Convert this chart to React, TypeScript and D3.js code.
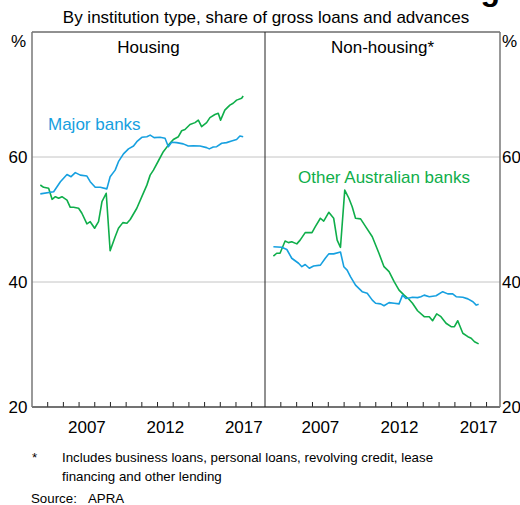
import { useEffect, useRef } from 'react'
import * as d3 from 'd3'

type Point = [number, number]

// [year, per cent]
const housingMajor: Point[] = [
  [2004.53, 54.1], [2005.38, 54.45], [2005.81, 56.05], [2006.23, 57.2], [2006.49, 56.85],
  [2006.76, 57.5], [2007.08, 57.1], [2007.5, 56.95], [2007.71, 56.05], [2008.03, 55.15],
  [2008.35, 55.15], [2008.77, 54.9], [2008.98, 56.85], [2009.3, 57.9], [2009.51, 59.25],
  [2009.83, 60.5], [2010.15, 61.3], [2010.47, 61.75], [2010.68, 62.45], [2011.0, 63.15],
  [2011.32, 63.25], [2011.53, 63.5], [2011.78, 63.1], [2012.16, 63.15], [2012.48, 63.0],
  [2012.69, 61.65], [2012.9, 62.35], [2013.22, 62.3], [2013.64, 62.1], [2013.96, 61.75],
  [2014.28, 61.8], [2014.71, 61.75], [2015.13, 61.5], [2015.3, 61.3], [2015.55, 61.6],
  [2015.77, 61.65], [2016.09, 62.2], [2016.4, 62.3], [2016.72, 62.55], [2017.04, 62.8],
  [2017.25, 63.35], [2017.46, 63.25],
]

const housingOther: Point[] = [
  [2004.53, 55.52], [2004.74, 55.15], [2005.06, 55.0], [2005.28, 53.23], [2005.49, 53.65],
  [2005.7, 53.4], [2005.91, 53.65], [2006.23, 53.1], [2006.44, 51.95], [2006.65, 51.95],
  [2006.97, 51.8], [2007.18, 51.0], [2007.5, 49.3], [2007.71, 49.65], [2007.99, 48.6],
  [2008.24, 49.65], [2008.46, 52.85], [2008.73, 54.2], [2008.98, 45.0], [2009.3, 47.25],
  [2009.51, 48.6], [2009.79, 49.5], [2010.05, 49.4], [2010.26, 50.0], [2010.68, 51.8],
  [2011.0, 53.65], [2011.32, 55.5], [2011.53, 57.1], [2011.74, 57.9], [2012.06, 59.4],
  [2012.37, 60.85], [2012.69, 61.9], [2013.01, 62.8], [2013.33, 63.25], [2013.54, 64.2],
  [2013.75, 64.4], [2014.07, 65.2], [2014.39, 65.5], [2014.6, 65.9], [2014.81, 64.85],
  [2015.13, 65.5], [2015.34, 66.3], [2015.66, 66.8], [2015.87, 67.0], [2016.02, 65.9],
  [2016.29, 67.5], [2016.61, 68.3], [2016.82, 68.6], [2017.04, 69.1], [2017.36, 69.4],
  [2017.46, 69.75],
]

const nonHousingMajor: Point[] = [
  [2004.53, 45.65], [2005.06, 45.55], [2005.38, 45.2], [2005.69, 43.8], [2006.12, 43.0],
  [2006.33, 42.45], [2006.54, 42.8], [2006.8, 42.2], [2007.07, 42.55], [2007.5, 42.7],
  [2007.81, 43.8], [2008.03, 44.5], [2008.34, 44.5], [2008.77, 44.8], [2008.98, 42.45],
  [2009.19, 41.9], [2009.4, 40.85], [2009.72, 39.5], [2010.14, 38.45], [2010.46, 38.2],
  [2010.78, 37.1], [2010.99, 36.6], [2011.31, 36.5], [2011.52, 36.2], [2011.84, 36.7],
  [2012.16, 36.6], [2012.47, 36.5], [2012.69, 37.9], [2012.9, 37.35], [2013.11, 37.45],
  [2013.32, 37.55], [2013.64, 37.5], [2013.85, 37.65], [2014.06, 37.9], [2014.38, 37.65],
  [2014.81, 37.8], [2015.23, 38.45], [2015.55, 38.1], [2015.86, 38.1], [2016.08, 37.65],
  [2016.5, 37.55], [2016.82, 37.3], [2017.14, 36.85], [2017.35, 36.3], [2017.5, 36.45],
]

const nonHousingOther: Point[] = [
  [2004.53, 44.15], [2004.74, 44.6], [2004.95, 44.6], [2005.27, 46.55], [2005.48, 46.3],
  [2005.69, 46.45], [2006.01, 46.1], [2006.22, 46.7], [2006.54, 47.9], [2006.97, 47.9],
  [2007.18, 48.85], [2007.5, 50.2], [2007.71, 49.75], [2008.03, 51.15], [2008.34, 50.2],
  [2008.56, 46.7], [2008.77, 45.55], [2009.04, 54.7], [2009.3, 53.4], [2009.51, 52.05],
  [2009.72, 50.2], [2010.04, 50.1], [2010.36, 48.85], [2010.78, 47.25], [2011.2, 44.6],
  [2011.52, 42.45], [2011.84, 41.65], [2012.16, 40.05], [2012.47, 38.7], [2012.79, 37.9],
  [2013.11, 37.2], [2013.32, 36.6], [2013.64, 35.4], [2014.06, 34.45], [2014.38, 34.45],
  [2014.59, 33.8], [2014.85, 34.9], [2015.12, 34.45], [2015.44, 33.4], [2015.76, 32.85],
  [2015.97, 32.85], [2016.18, 33.8], [2016.5, 31.8], [2016.82, 31.25], [2017.03, 31.0],
  [2017.24, 30.45], [2017.5, 30.1],
]

const yTicks = [20, 40, 60]
const yGrid = [40, 60]
const yearLabels = [2007, 2012, 2017]
const yearTicks = d3.range(2005, 2019)

const FONT = '"Liberation Sans", Arial, sans-serif'
const BLUE = '#16a0e0'
const GREEN = '#0fae4a'

export default function App() {
  const svgRef = useRef<SVGSVGElement | null>(null)

  useEffect(() => {
    if (!svgRef.current) {
      return
    }

    const width = 520
    const height = 505
    const left = 32
    const mid = 265
    const right = 500
    const top = 32
    const bottom = 407

    const svg = d3.select(svgRef.current)
    svg.selectAll('*').remove()
    svg.attr('width', width).attr('height', height).attr('viewBox', `0 0 ${width} ${height}`)

    const y = d3.scaleLinear().domain([20, 80]).range([bottom, top])

    const panels = [
      {
        title: 'Housing',
        x: d3.scaleLinear().domain([2004, 2018.85]).range([left, mid]),
        major: housingMajor,
        other: housingOther,
      },
      {
        title: 'Non-housing*',
        x: d3.scaleLinear().domain([2004, 2018.85]).range([mid, right]),
        major: nonHousingMajor,
        other: nonHousingOther,
      },
    ]

    // title sits above the crop, only the descender of its last letter shows
    svg
      .append('text')
      .attr('x', right)
      .attr('y', 0)
      .attr('text-anchor', 'end')
      .attr('font-family', FONT)
      .attr('font-weight', 700)
      .attr('font-size', 32)
      .attr('fill', '#000')
      .text("Banks' Domestic Lending")

    svg
      .append('text')
      .attr('x', (left + right) / 2)
      .attr('y', 23)
      .attr('text-anchor', 'middle')
      .attr('font-family', FONT)
      .attr('font-size', 17)
      .attr('fill', '#000')
      .text('By institution type, share of gross loans and advances')

    panels.forEach((panel) => {
      const [x0, x1] = panel.x.range()

      svg
        .append('g')
        .selectAll('line.grid')
        .data(yGrid)
        .enter()
        .append('line')
        .attr('x1', x0)
        .attr('x2', x1)
        .attr('y1', (d: number) => y(d))
        .attr('y2', (d: number) => y(d))
        .attr('stroke', '#c4c4c4')
        .attr('stroke-width', 1)

      svg
        .append('g')
        .selectAll('line.tick')
        .data(yearTicks)
        .enter()
        .append('line')
        .attr('x1', (d: number) => panel.x(d))
        .attr('x2', (d: number) => panel.x(d))
        .attr('y1', bottom)
        .attr('y2', bottom - 5)
        .attr('stroke', '#222')
        .attr('stroke-width', 1)

      svg
        .append('g')
        .selectAll('text.year')
        .data(yearLabels)
        .enter()
        .append('text')
        .attr('x', (d: number) => panel.x(d + 0.5))
        .attr('y', 433)
        .attr('text-anchor', 'middle')
        .attr('font-family', FONT)
        .attr('font-size', 17)
        .attr('fill', '#000')
        .text((d: number) => String(d))

      svg
        .append('text')
        .attr('x', (x0 + x1) / 2)
        .attr('y', 53)
        .attr('text-anchor', 'middle')
        .attr('font-family', FONT)
        .attr('font-size', 17)
        .attr('fill', '#000')
        .text(panel.title)

      const line = d3
        .line<Point>()
        .x((d) => panel.x(d[0]))
        .y((d) => y(d[1]))

      svg
        .append('path')
        .datum(panel.other)
        .attr('d', line)
        .attr('fill', 'none')
        .attr('stroke', GREEN)
        .attr('stroke-width', 1.6)
        .attr('stroke-linejoin', 'round')

      svg
        .append('path')
        .datum(panel.major)
        .attr('d', line)
        .attr('fill', 'none')
        .attr('stroke', BLUE)
        .attr('stroke-width', 1.6)
        .attr('stroke-linejoin', 'round')
    })

    // frame
    svg
      .append('line')
      .attr('x1', left)
      .attr('x2', right)
      .attr('y1', top)
      .attr('y2', top)
      .attr('stroke', '#222')
    svg
      .append('line')
      .attr('x1', left)
      .attr('x2', right)
      .attr('y1', bottom)
      .attr('y2', bottom)
      .attr('stroke', '#444')
      .attr('stroke-width', 1.3)
    svg
      .append('line')
      .attr('x1', mid)
      .attr('x2', mid)
      .attr('y1', top)
      .attr('y2', bottom)
      .attr('stroke', '#222')
    ;[left, right].forEach((xPos) => {
      svg
        .append('line')
        .attr('x1', xPos)
        .attr('x2', xPos)
        .attr('y1', top)
        .attr('y2', bottom)
        .attr('stroke', '#777')
        .attr('stroke-width', 1.5)
    })

    // y labels both sides
    svg
      .append('g')
      .selectAll('text.yl')
      .data(yTicks)
      .enter()
      .append('text')
      .attr('x', 27.5)
      .attr('y', (d: number) => y(d) + 6)
      .attr('text-anchor', 'end')
      .attr('font-family', FONT)
      .attr('font-size', 17)
      .text((d: number) => String(d))
    svg
      .append('g')
      .selectAll('text.yr')
      .data(yTicks)
      .enter()
      .append('text')
      .attr('x', 502)
      .attr('y', (d: number) => y(d) + 6)
      .attr('text-anchor', 'start')
      .attr('font-family', FONT)
      .attr('font-size', 17)
      .text((d: number) => String(d))
    svg
      .append('text')
      .attr('x', 26)
      .attr('y', 47)
      .attr('text-anchor', 'end')
      .attr('font-family', FONT)
      .attr('font-size', 17)
      .text('%')
    svg
      .append('text')
      .attr('x', 502)
      .attr('y', 47)
      .attr('font-family', FONT)
      .attr('font-size', 17)
      .text('%')

    // series labels
    svg
      .append('text')
      .attr('x', 48)
      .attr('y', 130)
      .attr('font-family', FONT)
      .attr('font-size', 17)
      .attr('fill', BLUE)
      .text('Major banks')
    svg
      .append('text')
      .attr('x', 298)
      .attr('y', 183)
      .attr('font-family', FONT)
      .attr('font-size', 17)
      .attr('fill', GREEN)
      .text('Other Australian banks')

    // notes
    const notes = svg
      .append('g')
      .attr('font-family', FONT)
      .attr('font-size', 13.3)
      .attr('fill', '#000')
    notes.append('text').attr('x', 32).attr('y', 462).text('*')
    notes
      .append('text')
      .attr('x', 62)
      .attr('y', 462)
      .text('Includes business loans, personal loans, revolving credit, lease')
    notes.append('text').attr('x', 62).attr('y', 481).text('financing and other lending')
    notes.append('text').attr('x', 31).attr('y', 503).text('Source:')
    notes.append('text').attr('x', 88).attr('y', 503).text('APRA')
  }, [])

  return (
    <svg
      ref={svgRef}
      style={{ position: 'absolute', left: 0, top: 0, background: '#fff' }}
      role="img"
      aria-label="Banks' lending shares by institution type, housing and non-housing"
    />
  )
}
